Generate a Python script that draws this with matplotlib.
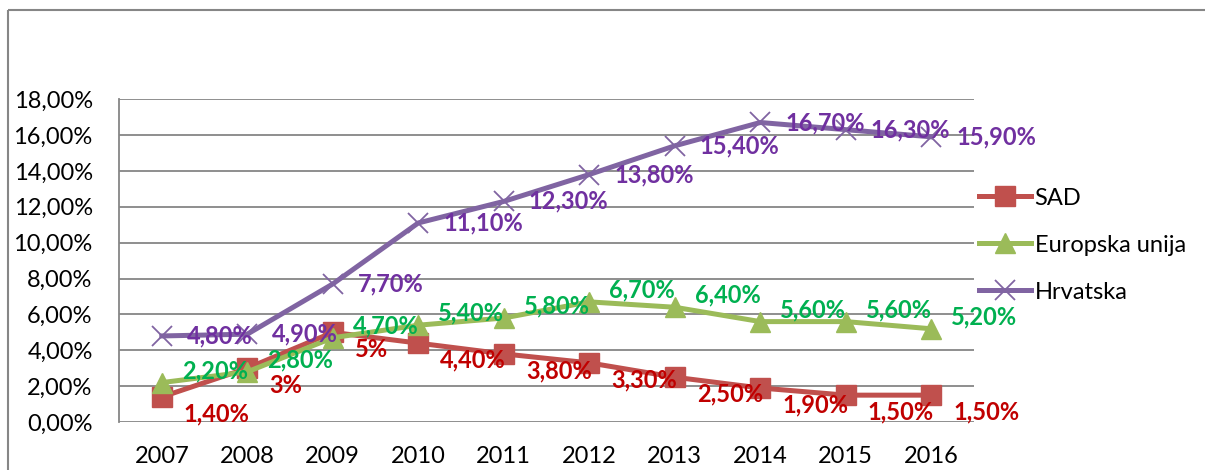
import matplotlib.pyplot as plt
from matplotlib.lines import Line2D

years = ['2007', '2008', '2009', '2010', '2011', '2012', '2013', '2014', '2015', '2016']
sad = [1.4, 3.0, 5.0, 4.4, 3.8, 3.3, 2.5, 1.9, 1.5, 1.5]
eu = [2.2, 2.8, 4.7, 5.4, 5.8, 6.7, 6.4, 5.6, 5.6, 5.2]
hrv = [4.8, 4.9, 7.7, 11.1, 12.3, 13.8, 15.4, 16.7, 16.3, 15.9]
sad_labels = ['1,40%', '3%', '5%', '4,40%', '3,80%', '3,30%', '2,50%', '1,90%', '1,50%', '1,50%']
eu_labels = ['2,20%', '2,80%', '4,70%', '5,40%', '5,80%', '6,70%', '6,40%', '5,60%', '5,60%', '5,20%']
hrv_labels = ['4,80%', '4,90%', '7,70%', '11,10%', '12,30%', '13,80%', '15,40%', '16,70%', '16,30%', '15,90%']

plt.rcParams['font.family'] = ['Lato', 'DejaVu Sans']

fig = plt.figure(figsize=(12.05, 4.70), dpi=100)
ax = fig.add_axes([0.0988, 0.102, 0.7095, 0.687])

# outer chart border (only top and left are inside the picture)
fig.add_artist(Line2D([0.0066, 0.0066], [-0.01, 0.979], color='#868686', lw=1.5,
                      transform=fig.transFigure, solid_capstyle='butt'))
fig.add_artist(Line2D([0.0066, 1.01], [0.979, 0.979], color='#868686', lw=1.5,
                      transform=fig.transFigure, solid_capstyle='butt'))

x = list(range(len(years)))
series = [
    ('SAD', sad, sad_labels, '#C0504D', '#C00000', 's', (22, -17)),
    ('Europska unija', eu, eu_labels, '#9BBB59', '#00B050', '^', (20, 12)),
    ('Hrvatska', hrv, hrv_labels, '#8064A2', '#7030A0', 'x', (25, 0)),
]
for name, vals, labs, col, lcol, mk, off in series:
    if mk == 'x':
        ax.plot(x, vals, color=col, lw=3.6, marker=mk, markersize=14,
                markeredgewidth=1.3, label=name, zorder=3)
    else:
        ax.plot(x, vals, color=col, lw=3.6, marker=mk, markersize=14, label=name, zorder=3)
    for xi, v, t in zip(x, vals, labs):
        ax.annotate(t, (xi, v), xytext=off, textcoords='offset pixels',
                    ha='left', va='center', fontsize=17, fontweight='bold',
                    color=lcol, zorder=4)

ax.set_xlim(-0.5, 9.5)
ax.set_ylim(0, 18)
ax.set_yticks(range(0, 19, 2))
ax.set_yticklabels(['%d,00%%' % v for v in range(0, 19, 2)])
ax.set_xticks(x)
ax.set_xticklabels(years)
ax.tick_params(axis='both', length=0, labelsize=17, colors='black')
ax.tick_params(axis='y', pad=19)
ax.tick_params(axis='x', pad=17)
ax.grid(axis='y', color='#868686', lw=1.3)
ax.set_axisbelow(True)
for s in ['top', 'right', 'bottom']:
    ax.spines[s].set_visible(False)
ax.spines['left'].set_color('#868686')
ax.spines['left'].set_linewidth(1.3)

ax.legend(loc='upper left', bbox_to_anchor=(0.995, 0.755), frameon=False,
          fontsize=17, handlelength=2.2, handletextpad=0.15, labelspacing=1.1,
          borderaxespad=0)

fig.savefig('out.png', dpi=100)
